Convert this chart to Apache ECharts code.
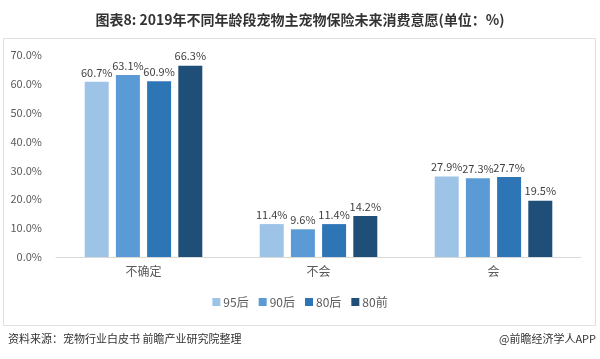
<!DOCTYPE html>
<html><head><meta charset="utf-8">
<script src="https://cdn.jsdelivr.net/npm/echarts@6/dist/echarts.min.js"></script>
<style>html,body{margin:0;padding:0;background:#fff}#c{width:600px;height:359px}</style>
</head><body><div id="c"></div>
<script>
var categories = ['不确定', '不会', '会'];
var seriesNames = ['95后', '90后', '80后', '80前'];
var s95 = [60.7, 11.4, 27.9];
var s90 = [63.1, 9.6, 27.3];
var s80 = [60.9, 11.4, 27.7];
var s80q = [66.3, 14.2, 19.5];
var yTicks = [0, 10, 20, 30, 40, 50, 60, 70];
var colors = ['#9DC3E6', '#5B9BD5', '#2E75B6', '#1F4E79'];
var font = '"Noto Sans CJK SC", "Noto Sans", sans-serif';
var chart = echarts.init(document.getElementById('c'));
var data = [s95, s90, s80, s80q];
chart.setOption({
  animation: false,
  textStyle: {fontFamily: font},
  title: {text: '图表8: 2019年不同年龄段宠物主宠物保险未来消费意愿(单位：%)', left: 'center', top: 8,
    textStyle: {fontSize: 14, fontWeight: 'bold', color: '#333', fontFamily: font}},
  graphic: [
    {type: 'rect', shape: {x: 3.5, y: 38.5, width: 592, height: 287}, style: {fill: 'none', stroke: '#e0e0e0', lineWidth: 1}},
    {type: 'text', left: 8, top: 333, style: {text: '资料来源：宠物行业白皮书 前瞻产业研究院整理', fill: '#333', font: '11px ' + font}},
    {type: 'text', right: 4, top: 333, style: {text: '@前瞻经济学人APP', fill: '#333', font: '11px ' + font}}
  ],
  legend: {data: seriesNames, bottom: 46, left: 'center', itemWidth: 8, itemHeight: 8, itemGap: 10,
    icon: 'rect', textStyle: {fontSize: 12, color: '#595959', padding: [0, 0, 0, -2]}},
  grid: {left: 56, right: 19, top: 55, bottom: 102},
  xAxis: {type: 'category', data: categories,
    axisLine: {lineStyle: {color: '#d9d9d9'}}, axisTick: {show: false},
    axisLabel: {fontSize: 12, color: '#595959', margin: 8}},
  yAxis: {type: 'value', min: yTicks[0], max: yTicks[yTicks.length - 1], interval: 10,
    splitLine: {show: false}, axisLine: {show: false}, axisTick: {show: false},
    axisLabel: {fontSize: 11, color: '#595959', margin: 14, formatter: function (v) { return v.toFixed(1) + '%'; }}},
  series: seriesNames.map(function (n, i) {
    return {name: n, type: 'bar', data: data[i], barWidth: 24, barGap: '30%',
      itemStyle: {color: colors[i]},
      label: {show: true, position: 'top', fontSize: 11, color: '#404040', distance: 4,
        formatter: function (p) { return p.value.toFixed(1) + '%'; }}};
  })
});
</script></body></html>
